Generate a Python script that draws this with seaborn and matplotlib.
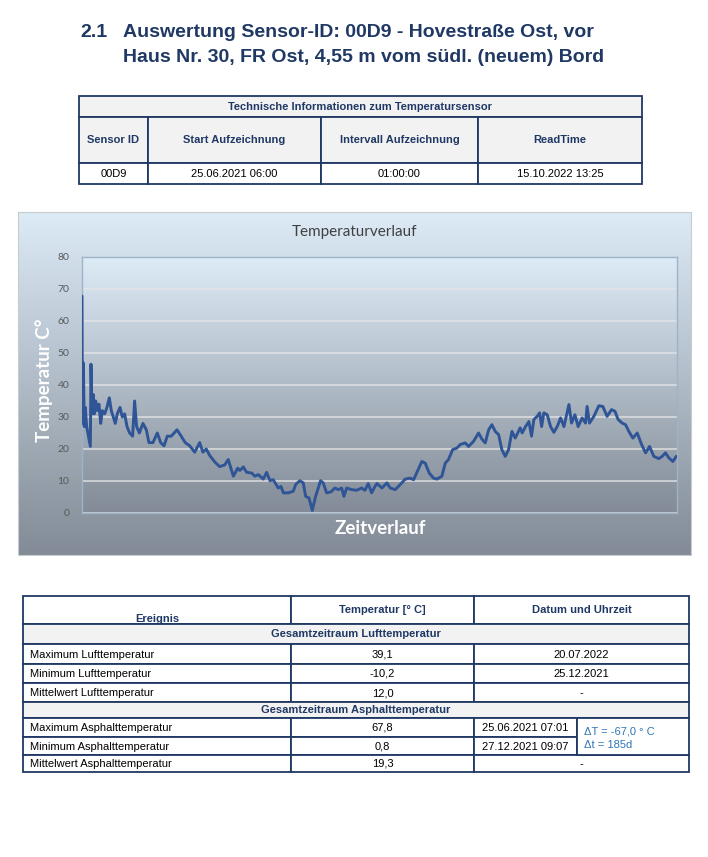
import numpy as np
import pandas as pd
import matplotlib
matplotlib.use('Agg')
import matplotlib.pyplot as plt
import seaborn as sns
from matplotlib.patches import Rectangle

# temperature trace (day offset since 25.06.2021 06:00, °C)
days = [0, 0.3, 1.07, 1.87, 2.67, 3.74, 5.6, 6.7, 7.2, 8, 9.1, 9.9, 11, 12.3, 13.6, 15,
        16.3, 18.2, 20, 21.9, 23.5, 25.1, 26.7, 28.3, 30.5, 32.3, 34.2, 36.1, 38.2, 40.6,
        42.2, 43.8, 46, 48.9, 51.6, 53.7, 56.9, 60.4, 63.1, 65.8, 68.4, 71.6, 76.2, 79.6,
        82.8, 86.4, 90.4, 94.4, 97, 99.7, 102.4, 106.4, 110.4, 114.4,
        117.3, 121.4, 124.9, 126.7, 129.4, 132.1, 136.1, 138.7, 141.4, 145.4, 148.1, 150.8,
        153.4, 157.4, 159.6, 161.5, 165.5, 169.5, 171.4, 174.8, 177.5, 179.4, 182.1, 184.7,
        187.4, 191.4, 193.5, 196.2, 199.7, 202.9, 205.6, 208.3, 210.1, 212.3, 216.3, 220.3,
        224.3, 227, 229.6, 232.3, 235,
        236.6, 240.6, 244.6, 247.3, 251.3, 255.3, 259.3, 263.3, 266, 268.7, 272.6, 275.3,
        278.5, 282, 284.7, 288.7, 291.4, 294, 297.3, 300.8, 303.4, 307.4, 310.1, 314.1,
        318.1, 320.8, 323.5, 326.2, 328.8, 331.5, 334.2, 336.8, 339.5, 342.2, 344.9, 347.5,
        351.5,
        353.1, 355.8, 358.5, 360.6, 362.5, 365.1, 367.1, 368.7, 370.5, 373.2, 375.9, 378.5,
        381.2, 383.9, 386.6, 390.6, 392.7, 395.4, 398, 401.2, 403.9, 405.2, 407.1, 410.6,
        414.6, 417.8, 421.2, 424.8, 427.5, 430.1, 433.3, 436, 438.7, 441.9, 445.4, 448.9,
        452.1, 455.3, 458.7, 462.7, 465.4, 468.1, 470.8, 474, 476.7]
temps = [67.8, 28, 46.9, 27, 33, 27, 23, 20.8, 46.5, 31, 37, 31, 35, 32, 34, 28,
         32, 31, 33, 36, 32, 30, 28, 31, 33, 30, 31, 27, 25, 24,
         35, 27, 25, 28, 26, 22, 22, 25, 22, 21, 24, 24, 26, 24,
         22, 21, 19, 22, 19, 20, 18, 16, 14.5, 15,
         16.7, 11.5, 14, 13.3, 14.4, 12.7, 12.5, 11.5, 12, 10.6, 12.7, 10.1,
         10.4, 7.8, 8.3, 6.3, 6.3, 6.8, 8.9, 10.1, 9.4, 5.2, 4.7, 0.8,
         5.2, 10.1, 9.4, 6.3, 6.6, 7.8, 7.3, 7.8, 5.2, 7.8, 7.3, 7.1,
         7.8, 7.1, 9.2, 6.3, 8.3,
         9.2, 7.8, 9.4, 7.8, 7.3, 8.9, 10.6, 10.9, 10.4, 12.7, 16.1, 15.6,
         12.5, 10.9, 10.6, 11.5, 15.6, 16.7, 19.8, 20.3, 21.4, 21.9, 20.8, 22.4,
         25, 23.1, 21.9, 26, 27.6, 25.5, 24.5, 19.8, 17.7, 19.8, 25.5, 23.4,
         26.6,
         25, 27, 28.6, 24, 29.2, 30.2, 31.3, 27, 31.3, 30.7, 27, 25.2,
         27, 29.7, 27, 33.9, 28.1, 30.7, 27, 29.7, 28.1, 33.3, 28.1, 30.2,
         33.5, 33.3, 30.2, 32.3, 31.8, 29.2, 28.1, 27.6, 25.5, 23.4, 25, 21.4,
         18.8, 20.8, 17.7, 17, 17.7, 18.8, 17.2, 16.1, 17.7]
total_days = 477.3
y_ticks = [0, 10, 20, 30, 40, 50, 60, 70, 80]

# tables
title_lines = ['Auswertung Sensor-ID: 00D9 - Hovestraße Ost, vor',
               'Haus Nr. 30, FR Ost, 4,55 m vom südl. (neuem) Bord']
info_header = ['Sensor ID', 'Start Aufzeichnung', 'Intervall Aufzeichnung', 'ReadTime']
info_values = ['00D9', '25.06.2021 06:00', '01:00:00', '15.10.2022 13:25']
luft_rows = [('Maximum Lufttemperatur', '39,1', '20.07.2022'),
             ('Minimum Lufttemperatur', '-10,2', '25.12.2021'),
             ('Mittelwert Lufttemperatur', '12,0', '-')]
asph_rows = [('Maximum Asphalttemperatur', '67,8', '25.06.2021 07:01'),
             ('Minimum Asphalttemperatur', '0,8', '27.12.2021 09:07'),
             ('Mittelwert Asphalttemperatur', '19,3', '-')]
delta_text = ['ΔT = -67,0 ° C', 'Δt = 185d']

sns.set_style('white')
plt.rcParams['font.family'] = ['Liberation Sans', 'DejaVu Sans']

W, H = 708, 857
navy = '#1f3864'
grey_fill = '#f2f2f2'
chart_font = ['Lato', 'DejaVu Sans']

fig = plt.figure(figsize=(W / 100, H / 100), dpi=100)
page = fig.add_axes([0, 0, 1, 1])
page.axis('off')


def cell(x0, y0, x1, y1, fill='white', lw=1.3):
    page.add_patch(Rectangle((x0, y0), x1 - x0, y1 - y0, facecolor=fill,
                             edgecolor=navy, lw=lw, zorder=2))


def txt(x, y, s, ha='center', bold=False, color='black', size=8):
    page.text(x, y, s, ha=ha, va='center', fontsize=size, color=color,
              fontweight='bold' if bold else 'normal', zorder=3)


# heading
page.text(80, 32, '2.1', fontsize=14, fontweight='bold', color=navy, va='center')
page.text(123, 32, title_lines[0], fontsize=14, fontweight='bold', color=navy, va='center')
page.text(123, 57, title_lines[1], fontsize=14, fontweight='bold', color=navy, va='center')

# sensor info table
cols1 = [79, 148, 321, 478, 642]
cell(79, 96, 642, 117, grey_fill)
txt(360, 107, 'Technische Informationen zum Temperatursensor', bold=True, color=navy)
for i in range(4):
    cell(cols1[i], 117, cols1[i + 1], 163, grey_fill)
    txt((cols1[i] + cols1[i + 1]) / 2, 140, info_header[i], bold=True, color=navy)
    cell(cols1[i], 163, cols1[i + 1], 184, 'white')
    txt((cols1[i] + cols1[i + 1]) / 2, 174, info_values[i])

# chart frame with gradient
bg = np.linspace([0.867, 0.922, 0.965], [0.51, 0.545, 0.59], 200)[:, None, :]
page.imshow(bg, extent=[18, 691, 555, 212], aspect='auto', zorder=1)
page.add_patch(Rectangle((18, 212), 673, 343, facecolor='none', edgecolor='#c8ccd0', lw=0.8, zorder=2))
page.text(354, 232, 'Temperaturverlauf', ha='center', va='center', fontsize=11,
          color='#404040', family=chart_font, zorder=3)
page.text(44, 380, 'Temperatur C°', ha='center', va='center', rotation=90, fontsize=13.5,
          color='white', fontweight='bold', family=chart_font, zorder=3)
page.text(380, 528, 'Zeitverlauf', ha='center', va='center', fontsize=13.5,
          color='white', fontweight='bold', family=chart_font, zorder=3)

# results table
c0, c1, c2, c3, csplit = 23, 291, 474, 689, 577
cell(c0, 596, c1, 624)
cell(c1, 596, c2, 624)
cell(c2, 596, c3, 624)
txt((c0 + c1) / 2, 619, 'Ereignis', bold=True, color=navy)
txt((c1 + c2) / 2, 610, 'Temperatur [° C]', bold=True, color=navy)
txt((c2 + c3) / 2, 610, 'Datum und Uhrzeit', bold=True, color=navy)

cell(c0, 624, c3, 644, grey_fill)
txt((c0 + c3) / 2, 634, 'Gesamtzeitraum Lufttemperatur', bold=True, color=navy)
luft_y = [644, 664, 683, 702]
for i, (name, val, date) in enumerate(luft_rows):
    y0, y1 = luft_y[i], luft_y[i + 1]
    cell(c0, y0, c1, y1)
    cell(c1, y0, c2, y1)
    cell(c2, y0, c3, y1)
    ym = (y0 + y1) / 2 + 0.5
    txt(30, ym, name, ha='left')
    txt((c1 + c2) / 2, ym, val)
    txt((c2 + c3) / 2, ym, date)

cell(c0, 702, c3, 718, grey_fill)
txt((c0 + c3) / 2, 710, 'Gesamtzeitraum Asphalttemperatur', bold=True, color=navy)
asph_y = [718, 737, 755, 772]
for i, (name, val, date) in enumerate(asph_rows):
    y0, y1 = asph_y[i], asph_y[i + 1]
    ym = (y0 + y1) / 2 + 0.5
    cell(c0, y0, c1, y1)
    cell(c1, y0, c2, y1)
    txt(30, ym, name, ha='left')
    txt((c1 + c2) / 2, ym, val)
    if i < 2:
        cell(c2, y0, csplit, y1)
        txt((c2 + csplit) / 2, ym, date)
    else:
        cell(c2, y0, c3, y1)
        txt((c2 + c3) / 2, ym, date)
cell(csplit, 718, c3, 755)
txt(584, 731, delta_text[0], ha='left', color='#2e75b6')
txt(584, 745, delta_text[1], ha='left', color='#2e75b6')

page.set_xlim(0, W)
page.set_ylim(H, 0)

# line chart
ax = fig.add_axes([82 / W, 1 - 513 / H, 595 / W, 256 / H])
ax.set_zorder(5)
ax.imshow(bg, extent=[0, total_days, 0, 80], aspect='auto', zorder=0)
df = pd.DataFrame({'Tag': days, 'Temperatur': temps})
sns.lineplot(data=df, x='Tag', y='Temperatur', ax=ax, color='#2f5597', linewidth=2.1,
             zorder=3)
ax.set_xlim(0, total_days)
ax.set_ylim(0, 80)
ax.set_yticks(y_ticks)
ax.set_xticks([])
ax.set_xlabel('')
ax.set_ylabel('')
ax.set_axisbelow(True)
ax.grid(axis='y', color='#e6e6e6', alpha=0.75, lw=1.3)
ax.tick_params(axis='y', length=0, pad=9, labelsize=7.5, labelcolor='#595959')
for lab in ax.get_yticklabels():
    lab.set_family(chart_font)
for sp in ax.spines.values():
    sp.set_color('#9fb3c8')
    sp.set_linewidth(1)

fig.savefig('out.png', dpi=100, facecolor='white')
